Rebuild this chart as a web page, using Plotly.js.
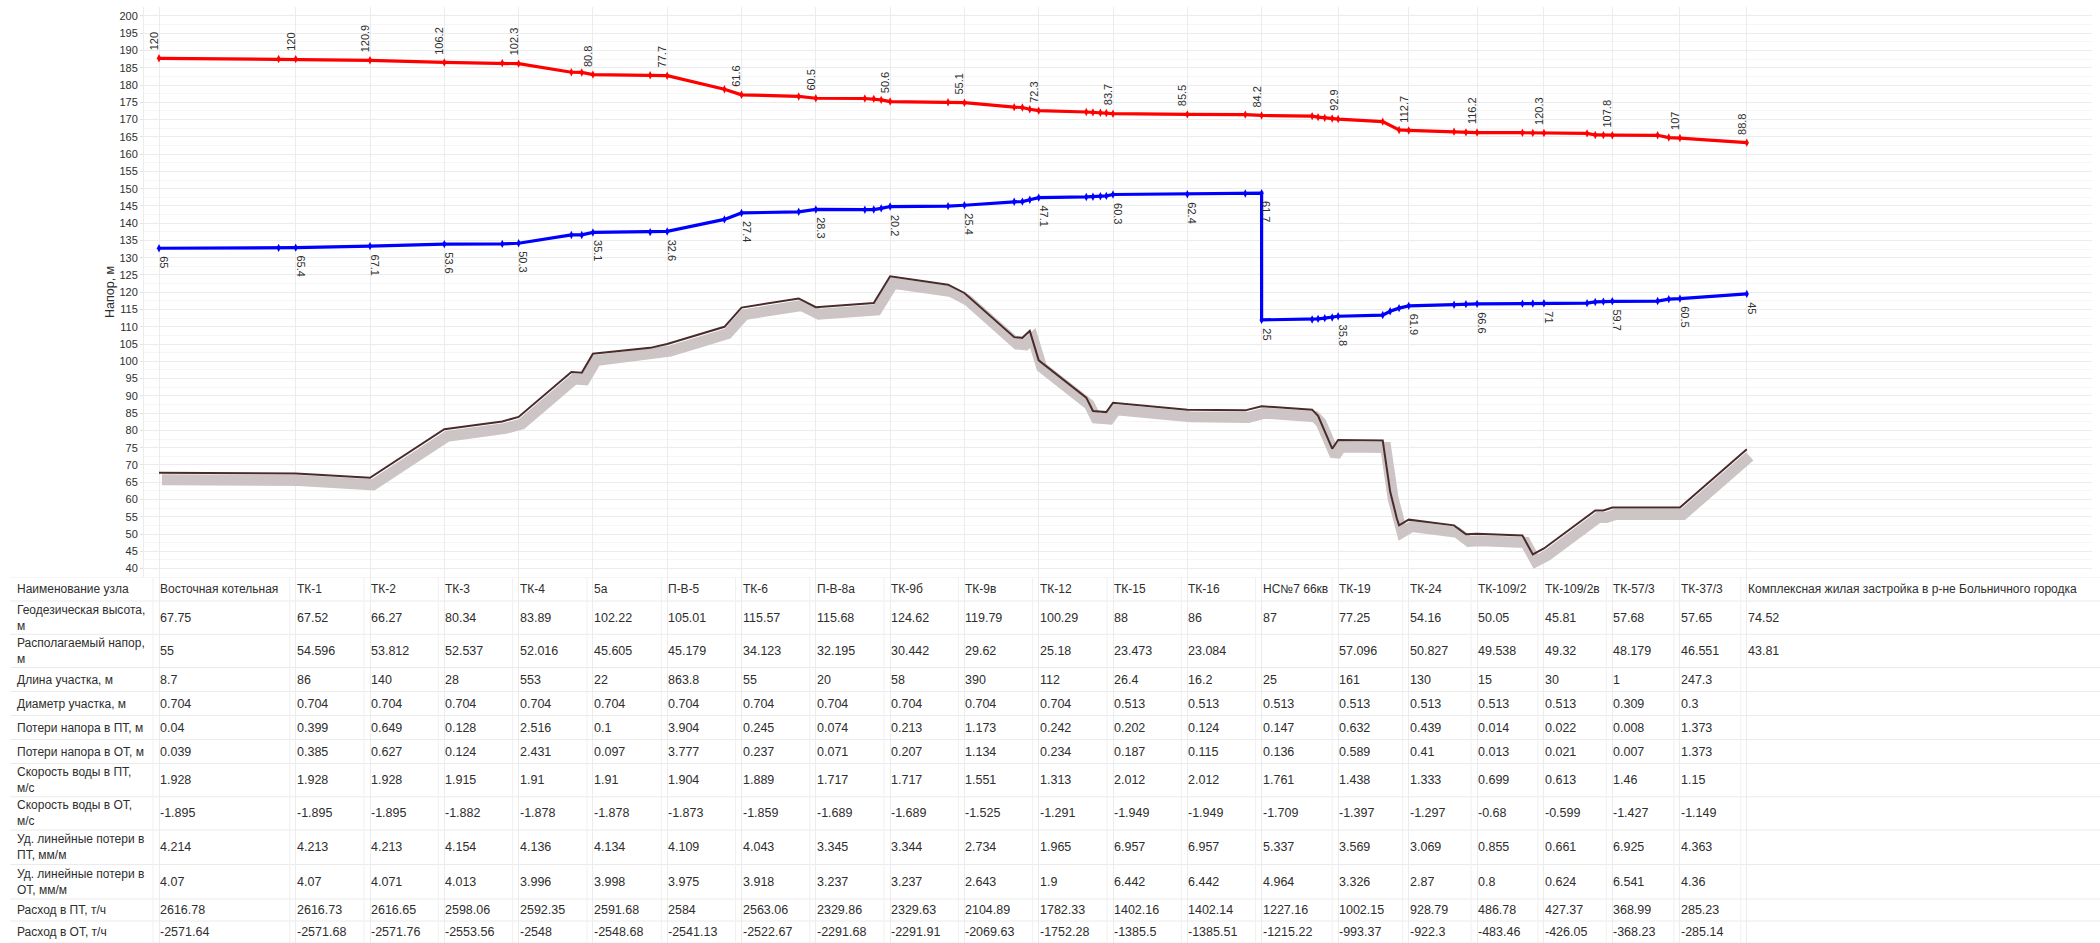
<!DOCTYPE html>
<html><head><meta charset="utf-8">
<script src="https://cdn.plot.ly/plotly-3.0.1.min.js"></script>
<style>html,body{margin:0;padding:0;background:#fff}#chart{width:2100px;height:943px}</style>
</head><body><div id="chart"></div>
<script>
// ---------- DATA ----------
const nodeNames = ['Восточная котельная','ТК-1','ТК-2','ТК-3','ТК-4','5а','П-В-5','ТК-6','П-В-8а','ТК-9б','ТК-9в','ТК-12','ТК-15','ТК-16','НС№7 66кв','ТК-19','ТК-24','ТК-109/2','ТК-109/2в','ТК-57/3','ТК-37/3','Комплексная жилая застройка в р-не Больничного городка'];
// node position along the profile (column slots)
const nodeX = [0,1.84,2.84,3.84,4.84,5.84,6.84,7.84,8.84,9.84,10.84,11.84,12.84,13.84,14.84,15.87,16.82,17.74,18.64,19.56,20.47,21.37];
const geoHeight = [67.75,67.52,66.27,80.34,83.89,102.22,105.01,115.57,115.68,124.62,119.79,100.29,88,86,87,77.25,54.16,50.05,45.81,57.68,57.65,74.52];
const supplyPressure = [120,120,120.9,106.2,102.3,80.8,77.7,61.6,60.5,50.6,55.1,72.3,83.7,85.5,84.2,92.9,112.7,116.2,120.3,107.8,107,88.8];
const returnPressure = [65,65.4,67.1,53.6,50.3,35.1,32.6,27.4,28.3,20.2,25.4,47.1,60.3,62.4,61.7,35.8,61.9,66.6,71,59.7,60.5,45];
const pumpNodeIndex = 14;
const pumpReturnPressureAfter = 25;

const availHead = [55,54.596,53.812,52.537,52.016,45.605,45.179,34.123,32.195,30.442,29.62,25.18,23.473,23.084,'',57.096,50.827,49.538,49.32,48.179,46.551,43.81];
const sectionLength = [8.7,86,140,28,553,22,863.8,55,20,58,390,112,26.4,16.2,25,161,130,15,30,1,247.3];
const sectionDiameter = [0.704,0.704,0.704,0.704,0.704,0.704,0.704,0.704,0.704,0.704,0.704,0.704,0.513,0.513,0.513,0.513,0.513,0.513,0.513,0.309,0.3];
const lossSupply = [0.04,0.399,0.649,0.128,2.516,0.1,3.904,0.245,0.074,0.213,1.173,0.242,0.202,0.124,0.147,0.632,0.439,0.014,0.022,0.008,1.373];
const lossReturn = [0.039,0.385,0.627,0.124,2.431,0.097,3.777,0.237,0.071,0.207,1.134,0.234,0.187,0.115,0.136,0.589,0.41,0.013,0.021,0.007,1.373];
const speedSupply = [1.928,1.928,1.928,1.915,1.91,1.91,1.904,1.889,1.717,1.717,1.551,1.313,2.012,2.012,1.761,1.438,1.333,0.699,0.613,1.46,1.15];
const speedReturn = [-1.895,-1.895,-1.895,-1.882,-1.878,-1.878,-1.873,-1.859,-1.689,-1.689,-1.525,-1.291,-1.949,-1.949,-1.709,-1.397,-1.297,-0.68,-0.599,-1.427,-1.149];
const specLossSupply = [4.214,4.213,4.213,4.154,4.136,4.134,4.109,4.043,3.345,3.344,2.734,1.965,6.957,6.957,5.337,3.569,3.069,0.855,0.661,6.925,4.363];
const specLossReturn = [4.07,4.07,4.071,4.013,3.996,3.998,3.975,3.918,3.237,3.237,2.643,1.9,6.442,6.442,4.964,3.326,2.87,0.8,0.624,6.541,4.36];
const flowSupply = [2616.78,2616.73,2616.65,2598.06,2592.35,2591.68,2584,2563.06,2329.86,2329.63,2104.89,1782.33,1402.16,1402.14,1227.16,1002.15,928.79,486.78,427.37,368.99,285.23];
const flowReturn = [-2571.64,-2571.68,-2571.76,-2553.56,-2548,-2548.68,-2541.13,-2522.67,-2291.68,-2291.91,-2069.63,-1752.28,-1385.5,-1385.51,-1215.22,-993.37,-922.3,-483.46,-426.05,-368.23,-285.14];

const rowLabels = ['Наименование узла','Геодезическая высота,<br>м','Располагаемый напор,<br>м','Длина участка, м','Диаметр участка, м','Потери напора в ПТ, м','Потери напора в ОТ, м','Скорость воды в ПТ,<br>м/с','Скорость воды в ОТ,<br>м/с','Уд. линейные потери в<br>ПТ, мм/м','Уд. линейные потери в<br>ОТ, мм/м','Расход в ПТ, т/ч','Расход в ОТ, т/ч'];
const yTitle = 'Напор, м';

// supply (red) head line, incl. intermediate profile points
const supplyLineX = [0,1.61,1.84,2.84,3.84,4.62,4.84,5.55,5.69,5.84,6.61,6.84,7.61,7.84,8.61,8.84,9.50,9.62,9.72,9.84,10.62,10.84,11.51,11.62,11.72,11.84,12.48,12.57,12.67,12.75,12.84,13.84,14.62,14.84,15.52,15.60,15.69,15.79,15.87,16.47,16.69,16.82,17.43,17.59,17.74,18.35,18.49,18.64,19.22,19.33,19.44,19.56,20.17,20.32,20.47,21.37];
const supplyLineY = [187.75,187.55,187.52,187.17,186.54,186.35,186.19,183.7,183.65,183.02,182.85,182.71,178.8,177.17,176.7,176.18,176.1,176.0,175.7,175.22,175.0,174.89,173.6,173.5,173.0,172.59,172.2,172.1,172.0,171.9,171.7,171.5,171.45,171.2,171.0,170.7,170.5,170.3,170.15,169.4,167.0,166.86,166.5,166.3,166.25,166.2,166.15,166.11,166.0,165.55,165.5,165.48,165.45,164.8,164.65,163.32];
// return (blue) head line
const returnLineX = [0,1.61,1.84,2.84,3.84,4.62,4.84,5.55,5.69,5.84,6.61,6.84,7.61,7.84,8.61,8.84,9.50,9.62,9.72,9.84,10.62,10.84,11.51,11.62,11.72,11.84,12.48,12.57,12.67,12.75,12.84,13.84,14.62,14.84,14.84,15.52,15.60,15.69,15.79,15.87,16.47,16.57,16.69,16.82,17.43,17.59,17.74,18.35,18.49,18.64,19.22,19.33,19.44,19.56,20.17,20.32,20.47,21.37];
const returnLineY = [132.75,132.85,132.92,133.37,133.94,134.0,134.19,136.6,136.6,137.32,137.4,137.61,141.1,142.97,143.3,143.98,143.9,143.95,144.3,144.82,144.95,145.19,146.2,146.25,146.8,147.39,147.6,147.65,147.8,147.9,148.3,148.4,148.6,148.7,112.0,112.1,112.3,112.5,112.7,113.05,113.4,114.5,115.4,116.06,116.4,116.55,116.65,116.7,116.75,116.81,116.85,117.2,117.3,117.38,117.45,118.0,118.15,119.52];
// ground profile
const groundX = [0,1.61,1.84,2.84,3.84,4.62,4.84,5.55,5.69,5.84,6.61,6.84,7.61,7.84,8.61,8.84,9.62,9.84,10.62,10.84,11.51,11.62,11.72,11.84,12.48,12.57,12.75,12.84,13.84,14.62,14.84,15.52,15.60,15.79,15.87,16.47,16.57,16.66,16.69,16.82,17.43,17.59,17.74,18.35,18.49,18.64,19.33,19.44,19.56,20.47,21.37];
const groundY = [67.75,67.7,67.52,66.27,80.34,82.6,83.89,96.9,96.7,102.22,103.9,105.01,110.0,115.57,118.2,115.68,116.9,124.62,122.2,119.79,107.0,106.8,108.8,100.29,89.5,85.6,85.3,88,86,85.8,87,86.0,84.2,74.7,77.25,77.1,62.3,54.5,52.5,54.16,52.5,49.9,50.05,49.6,44.1,45.81,56.8,56.8,57.68,57.65,74.52];

// ---------- LAYOUT GEOMETRY ----------
const W = 2100, H = 943;
const plotL = 144, plotR = 2092, plotT = 7, plotB = 577;
const pxPerSlot = 74.3, firstNodePx = 159;
const xmin = (plotL - firstNodePx) / pxPerSlot, xmax = (plotR - firstNodePx) / pxPerSlot;
const ymin = 37.55, ymax = 202.6;
const pxPerUnitY = (plotB - plotT) / (ymax - ymin);
const shadowDx = 3 / pxPerSlot, shadowDy = 7 / pxPerUnitY;
const rowH = [24,33.3,33.3,24,24,24,24,33.3,33.3,34.5,34.5,22,22];
const tableH = rowH.reduce((a, b) => a + b, 0);
const xd0 = plotL / W, xd1 = plotR / W, yd0 = (H - plotB) / H, yd1 = (H - plotT) / H;
const FONT = 'Liberation Sans, Arial, Helvetica, sans-serif';
const TXT = '#2e2e2e';

// ---------- ANNOTATIONS ----------
const annotations = [];
nodeX.forEach((x, i) => {
  annotations.push({x: x, y: geoHeight[i] + supplyPressure[i], xref: 'x', yref: 'y', text: String(supplyPressure[i]),
    textangle: -90, showarrow: false, xanchor: 'center', yanchor: 'bottom', xshift: -5, yshift: 6,
    font: {size: 11, color: TXT, family: FONT}});
  annotations.push({x: x, y: geoHeight[i] + returnPressure[i], xref: 'x', yref: 'y', text: String(returnPressure[i]),
    textangle: 90, showarrow: false, xanchor: 'center', yanchor: 'top', xshift: 5, yshift: -6,
    font: {size: 11, color: TXT, family: FONT}});
});
annotations.push({x: nodeX[pumpNodeIndex], y: geoHeight[pumpNodeIndex] + pumpReturnPressureAfter, xref: 'x', yref: 'y',
  text: String(pumpReturnPressureAfter), textangle: 90, showarrow: false, xanchor: 'center', yanchor: 'top', xshift: 5, yshift: -6,
  font: {size: 11, color: TXT, family: FONT}});
// y-axis title
annotations.push({x: 110 / W, y: (yd0 + yd1) / 2, xref: 'paper', yref: 'paper', text: yTitle, textangle: -90,
  showarrow: false, xanchor: 'center', yanchor: 'middle', font: {size: 12.5, color: TXT, family: FONT}});

// table
const tableRows = [nodeNames, geoHeight, availHead, sectionLength, sectionDiameter, lossSupply, lossReturn,
  speedSupply, speedReturn, specLossSupply, specLossReturn, flowSupply, flowReturn];
const rowTop = [];
let acc = 0;
rowH.forEach(h => { rowTop.push(acc); acc += h; });
tableRows.forEach((vals, r) => {
  const yc = rowTop[r] + rowH[r] / 2;
  annotations.push({x: 15 / W, y: yc, xref: 'paper', yref: 'y4', text: rowLabels[r], showarrow: false,
    xanchor: 'left', yanchor: 'middle', align: 'left', font: {size: 12, color: TXT, family: FONT}});
  vals.forEach((v, i) => {
    if (v === '' || v === undefined) return;
    const isText = typeof v === 'string';
    annotations.push({x: nodeX[i], y: yc, xref: 'x', yref: 'y4', text: String(v), showarrow: false,
      xanchor: 'left', yanchor: 'middle', align: 'left', xshift: -1,
      font: {size: isText ? 12 : 12.5, color: TXT, family: FONT}});
  });
});

// table rules
const shapes = [];
rowTop.concat([tableH]).forEach(y => {
  shapes.push({type: 'line', xref: 'paper', yref: 'y4', x0: 10 / W, x1: 1, y0: y, y1: y,
    line: {color: '#ebebeb', width: 1}});
});
nodeX.forEach(x => {
  shapes.push({type: 'line', xref: 'x', yref: 'y4', x0: x - 6 / pxPerSlot, x1: x - 6 / pxPerSlot, y0: 0, y1: tableH,
    line: {color: '#f0f0f0', width: 1}});
});

// ---------- TRACES ----------
const traces = [
  {x: [], y: [], xaxis: 'x', yaxis: 'y', mode: 'lines', hoverinfo: 'skip'},
  {x: [], y: [], xaxis: 'x', yaxis: 'y4', mode: 'lines', hoverinfo: 'skip'},
  {x: groundX, y: groundY, xaxis: 'x2', yaxis: 'y2', mode: 'lines', line: {color: '#cdc5c5', width: 11}, hoverinfo: 'skip'},
  {x: groundX, y: groundY, xaxis: 'x3', yaxis: 'y3', mode: 'lines', line: {color: '#4a2b2b', width: 2}, name: 'Рельеф'},
  {x: supplyLineX, y: supplyLineY, xaxis: 'x3', yaxis: 'y3', mode: 'lines+markers', name: 'ПТ',
    line: {color: '#ff0000', width: 3.2}, marker: {symbol: 'diamond-tall', size: 6, color: '#ff0000'}},
  {x: returnLineX, y: returnLineY, xaxis: 'x3', yaxis: 'y3', mode: 'lines+markers', name: 'ОТ',
    line: {color: '#0000ff', width: 3.2}, marker: {symbol: 'diamond-tall', size: 6, color: '#0000ff'}}
];

const layout = {
  width: W, height: H, margin: {l: 0, r: 0, t: 0, b: 0},
  paper_bgcolor: '#ffffff', plot_bgcolor: 'rgba(0,0,0,0)', showlegend: false,
  font: {family: FONT, size: 12, color: TXT},
  xaxis: {domain: [xd0, xd1], range: [xmin, xmax], tickvals: nodeX, showticklabels: false, ticks: '',
    showgrid: true, gridcolor: '#ececec', gridwidth: 1, zeroline: false, showline: false, fixedrange: true, anchor: 'y'},
  yaxis: {domain: [yd0, yd1], range: [ymin, ymax], tick0: 0, dtick: 5, ticks: 'outside', ticklen: 3, tickcolor: '#e2e2e2',
    tickfont: {size: 11, color: TXT, family: FONT}, gridcolor: '#ececec', zeroline: false, showline: true, linecolor: '#ececec',
    minor: {dtick: 2.5, showgrid: true, gridcolor: '#f6f6f6', ticks: ''}, anchor: 'x', fixedrange: true},
  xaxis2: {overlaying: 'x', range: [xmin - shadowDx, xmax - shadowDx], visible: false, anchor: 'y2'},
  yaxis2: {overlaying: 'y', range: [ymin + shadowDy, ymax + shadowDy], visible: false, anchor: 'x2'},
  xaxis3: {overlaying: 'x', range: [xmin, xmax], visible: false, anchor: 'y3'},
  yaxis3: {overlaying: 'y', range: [ymin, ymax], visible: false, anchor: 'x3'},
  yaxis4: {domain: [0, yd0], range: [tableH, 0], visible: false, anchor: 'x', fixedrange: true},
  annotations: annotations, shapes: shapes
};

Plotly.newPlot('chart', traces, layout, {staticPlot: true, displayModeBar: false});
</script></body></html>
